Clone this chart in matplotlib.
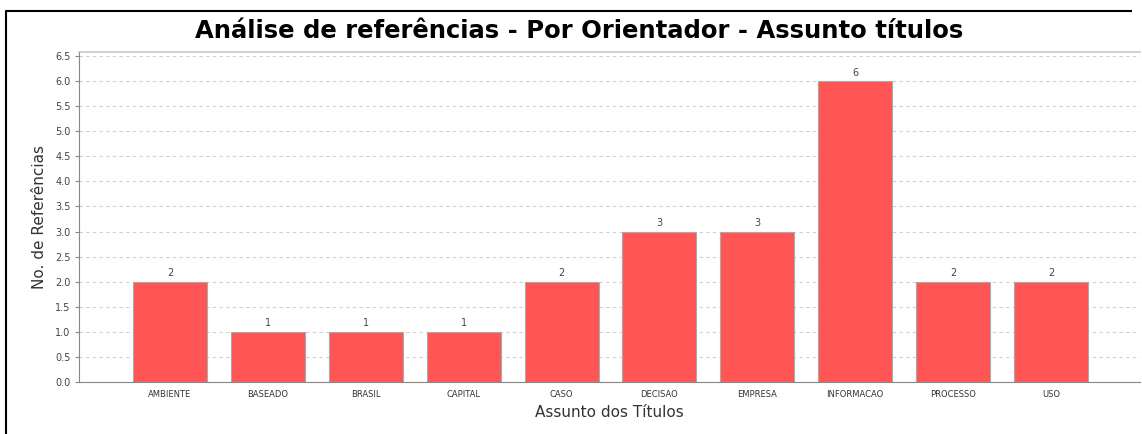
import matplotlib
matplotlib.use("Agg")
import matplotlib.pyplot as plt
from matplotlib.lines import Line2D

categories = ["AMBIENTE", "BASEADO", "BRASIL", "CAPITAL", "CASO", "DECISAO",
              "EMPRESA", "INFORMACAO", "PROCESSO", "USO"]
values = [2, 1, 1, 1, 2, 3, 3, 6, 2, 2]
yticks = [0.0, 0.5, 1.0, 1.5, 2.0, 2.5, 3.0, 3.5, 4.0, 4.5, 5.0, 5.5, 6.0, 6.5]

W, H = 1142, 434
fig = plt.figure(figsize=(W / 100, H / 100), dpi=100)
fig.patch.set_facecolor("white")

# outer border (cropped frame): left and top edges only
bx, by = 5.5 / W, 1 - 10.5 / H
fig.add_artist(Line2D([bx, bx, 1132 / W], [-0.05, by, by], transform=fig.transFigure,
                      color="black", linewidth=1.5, solid_capstyle="butt"))

left, right, top, bottom = 79, 1140, 52, 382
ax = fig.add_axes([left / W, 1 - bottom / H, (right - left) / W, (bottom - top) / H])

x = list(range(len(categories)))
ax.bar(x, values, width=0.756, color="#FF5555", edgecolor="#AAAAAA", linewidth=0.8, zorder=3)
for xi, v in zip(x, values):
    ax.text(xi, v + 0.07, f"{v}", ha="center", va="bottom", fontsize=7, color="#444444")

ax.set_xlim(-0.93, len(categories) - 1 + 0.91)
ax.set_ylim(0, 6.58)
ax.set_yticks(yticks)
ax.set_yticklabels([f"{t:.1f}" for t in yticks], fontsize=7, color="#444444")
ax.set_xticks(x)
ax.set_xticklabels(categories, fontsize=6, color="#333333")
ax.tick_params(axis="x", length=0, pad=6)
ax.tick_params(axis="y", length=3, color="#888888", pad=3)

ax.yaxis.grid(True, linestyle=(0, (3, 3)), color="#D0D0D0", linewidth=0.8, zorder=0)
ax.set_axisbelow(True)
ax.spines["right"].set_visible(False)
ax.spines["top"].set_color("#C8C8C8")
ax.spines["top"].set_linewidth(1.2)
ax.spines["left"].set_color("#888888")
ax.spines["bottom"].set_color("#888888")

ax.set_ylabel("No. de Referências", fontsize=11, color="#333333", labelpad=6)
ax.set_xlabel("Assunto dos Títulos", fontsize=11, color="#333333", labelpad=4)

fig.text(579 / W, 1 - 31 / H, "Análise de referências - Por Orientador - Assunto títulos",
         ha="center", va="center", fontsize=17.5, fontweight="bold", color="black")

fig.savefig("out.png", dpi=100)
